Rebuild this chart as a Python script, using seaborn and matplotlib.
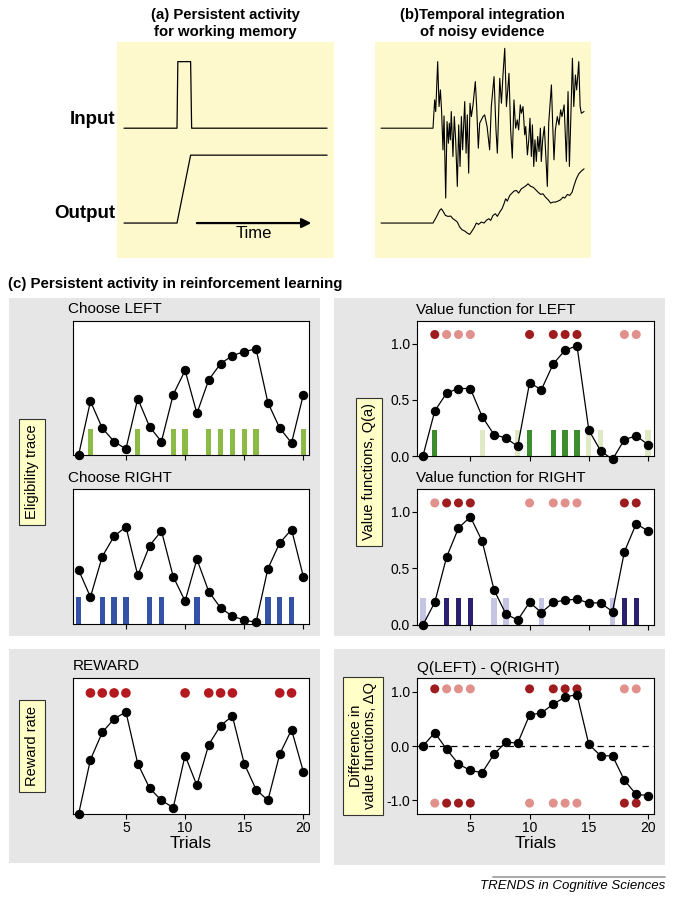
import matplotlib
matplotlib.use("Agg")
import matplotlib.pyplot as plt
from matplotlib.patches import Rectangle
from matplotlib.lines import Line2D
import seaborn as sns

# ---- dados (a): atividade persistente ----
wm_in_t = [0, 26.1, 26.5, 32.8, 33.3, 100]
wm_in_v = [0, 0, 2.0, 2.0, 0, 0]
wm_out_t = [0, 26.1, 32.8, 100]
wm_out_v = [0, 0, 2.04, 2.04]

# ---- dados (b): evidencia ruidosa e integracao ----
noise_t = [-34.4, 0, 1.1, 1.8, 3.1, 4.0, 4.9, 5.7, 6.6, 7.3, 8.4, 9.3, 10.2, 10.8, 11.5, 12.1,
           13.2, 14.1, 15.0, 16.1, 17.0, 17.9, 18.8, 19.6, 21.0, 21.9, 22.7, 23.6, 24.5, 25.4,
           26.5, 28.0, 28.9, 30.0, 30.9, 32.0, 33.1, 34.2, 35.8, 37.5, 38.6, 40.4, 41.7, 42.6,
           44.2, 45.3, 46.4, 47.5, 48.6, 49.4, 50.3, 51.4, 52.5, 53.6, 54.7, 55.8, 56.7, 57.8,
           58.5, 59.6, 60.7, 61.4, 62.5, 63.4, 64.2, 65.1, 65.8, 66.7, 67.5, 68.4, 69.3, 70.2,
           71.1, 71.7, 72.6, 73.7, 74.6, 75.7, 76.6, 78.4, 79.2, 80.1, 81.0, 82.3, 83.4, 84.5,
           85.4, 86.8, 88.3, 89.4, 90.3, 91.2, 92.3, 93.2, 94.3, 95.1, 95.8, 96.5, 97.4, 98.2, 100]
noise_v = [0, 0, 0.85, 0.50, 2.00, 0.65, 1.15, 0.50, -0.65, 0.37, -2.10, 0.20, -0.45, 0.15, -0.35, 0.50,
           -0.85, 0.35, -0.35, -1.75, 0.10, -1.15, 0.35, -0.65, 0.80, -0.75, 0.40, -1.35, 0.75, 0.35,
           0.70, 1.40, 0.65, -0.60, 0.15, 0.25, 0.35, 0.40, 0.05, -0.65, 0.65, 1.55, -0.05, -0.75,
           1.50, 0.75, 1.65, 2.40, 0.65, 1.10, 1.65, -0.05, -0.90, 0.85, 0.00, 0.25, -0.05, 0.70,
           0.45, 0.65, -0.20, 0.05, -0.80, -0.35, 0.30, -0.85, 0.10, -1.15, -0.35, -1.00, -0.25, -0.70,
           0.00, -1.00, -0.35, 0.05, -0.75, -1.75, 0.15, 1.30, 0.15, -0.95, -0.05, 0.35, 0.10, 0.55,
           0.35, 0.70, -1.00, 1.10, -1.15, 0.25, 2.10, 0.65, 1.60, 1.15, 1.55, 2.00, 0.65, 0.45, 0.50]
integ_t = [-34.4, 0, 2.2, 4.4, 5.5, 6.6, 8.2, 9.9, 11.7, 13.2, 14.8, 16.1, 17.7, 19.2, 21.0, 22.7,
           24.3, 25.4, 27.2, 28.7, 30.2, 32.0, 33.8, 35.3, 36.9, 38.2, 39.7, 41.3, 42.6, 44.2,
           45.7, 47.0, 48.1, 49.2, 50.8, 52.3, 53.6, 55.2, 56.7, 58.5, 60.3, 61.8, 62.9, 64.7,
           66.2, 67.8, 69.5, 71.3, 72.8, 74.4, 76.2, 77.9, 79.5, 81.0, 82.8, 84.5, 86.1, 87.2,
           89.0, 90.5, 92.1, 93.4, 94.9, 96.5, 98.2, 100]
integ_v = [0, 0, 0.18, 0.38, 0.43, 0.36, 0.23, 0.20, 0.21, 0.13, 0.08, 0.03, -0.12, -0.20, -0.24, -0.30,
           -0.34, -0.27, -0.14, 0.00, -0.04, 0.03, 0.00, 0.08, 0.13, 0.08, 0.23, 0.28, 0.20, 0.33,
           0.43, 0.58, 0.73, 0.66, 0.83, 0.90, 0.96, 0.98, 0.90, 1.03, 1.08, 1.13, 1.18, 1.10,
           1.08, 1.01, 0.93, 0.86, 0.88, 0.78, 0.70, 0.60, 0.63, 0.63, 0.66, 0.70, 0.78, 0.75,
           0.86, 0.83, 0.93, 1.13, 1.33, 1.48, 1.56, 1.63]

# ---- dados (c): aprendizado por reforco ----
trials = list(range(1, 21))
chose_left = [2, 6, 9, 10, 12, 13, 14, 15, 16, 20]
chose_right = [1, 3, 4, 5, 7, 8, 11, 17, 18, 19]
rewarded = [2, 3, 4, 5, 10, 12, 13, 14, 18, 19]

elig_left = [0.00, 0.40, 0.20, 0.10, 0.045, 0.42, 0.21, 0.10, 0.45, 0.63,
             0.31, 0.56, 0.68, 0.74, 0.77, 0.79, 0.39, 0.20, 0.09, 0.45]
elig_right = [0.40, 0.20, 0.50, 0.65, 0.72, 0.36, 0.58, 0.69, 0.35, 0.17,
              0.48, 0.24, 0.12, 0.057, 0.03, 0.012, 0.41, 0.60, 0.70, 0.35]
q_left = [0.00, 0.40, 0.56, 0.60, 0.60, 0.35, 0.19, 0.16, 0.086, 0.65,
          0.59, 0.82, 0.94, 0.98, 0.23, 0.045, -0.03, 0.145, 0.18, 0.10]
q_right = [0.00, 0.20, 0.60, 0.855, 0.955, 0.74, 0.31, 0.097, 0.044, 0.20,
           0.11, 0.20, 0.22, 0.227, 0.195, 0.195, 0.118, 0.646, 0.894, 0.829]
q_diff = [0.00, 0.245, -0.06, -0.33, -0.45, -0.49, -0.15, 0.07, 0.055, 0.57,
          0.61, 0.77, 0.90, 0.945, 0.03, -0.18, -0.18, -0.63, -0.89, -0.91]
reward_rate = [0.00, 0.40, 0.60, 0.70, 0.75, 0.37, 0.19, 0.10, 0.047, 0.43,
               0.21, 0.51, 0.65, 0.72, 0.37, 0.18, 0.10, 0.44, 0.62, 0.31]

# ---- estilo ----
sns.set_theme(style="white", rc={"text.color": "black", "axes.labelcolor": "black",
                                 "xtick.color": "black", "ytick.color": "black",
                                 "patch.force_edgecolor": False})
plt.rcParams["font.family"] = ["Liberation Sans", "DejaVu Sans"]

W, H = 675, 899
YELLOW = "#fdf9cd"
GRAY = "#e6e6e6"
LABEL_BOX = "#ffffc8"
RED_DARK = "#9e1b1e"
RED_LIGHT = "#e0918c"
RED_REWARD = "#b3191e"
GREEN = "#8cbb45"
GREEN_DARK = "#3d8c2e"
GREEN_LIGHT = "#dfe9c6"
BLUE = "#3553a6"
NAVY = "#2b1f70"
LAVENDER = "#c4c4e4"

fig = plt.figure(figsize=(W / 100, H / 100), dpi=100)
fig.patch.set_facecolor("white")


def px_axes(x0, y0, x1, y1):
    return fig.add_axes([x0 / W, 1 - y1 / H, (x1 - x0) / W, (y1 - y0) / H])


def ftext(x, y, s, **kw):
    fig.text(x / W, 1 - y / H, s, **kw)


def gray_box(x0, y0, x1, y1):
    fig.add_artist(Rectangle((x0 / W, 1 - y1 / H), (x1 - x0) / W, (y1 - y0) / H,
                             transform=fig.transFigure, facecolor=GRAY,
                             edgecolor="none", zorder=0))


def trace(ax, y):
    sns.lineplot(x=trials, y=y, ax=ax, color="black", lw=0.9, marker="o",
                 markersize=6, markeredgecolor="black", estimator=None,
                 sort=False, clip_on=False, zorder=4)


def dots(ax, xs, level, color, s=42):
    sns.scatterplot(x=xs, y=[level] * len(xs), ax=ax, color=color, s=s,
                    edgecolor="none", clip_on=False, zorder=3, legend=False)


def bars(ax, xs, height, colors):
    ax.bar(xs, height, width=0.45, color=colors, edgecolor="none", linewidth=0, zorder=2)


def style_c(ax, ylim, xlabels=False):
    ax.set_xlim(0.5, 20.5)
    ax.set_ylim(*ylim)
    ax.set_facecolor("white")
    for sp in ax.spines.values():
        sp.set_visible(True)
        sp.set_color("black")
        sp.set_linewidth(0.8)
    ax.set_xticks([5, 10, 15, 20])
    ax.tick_params(axis="x", bottom=True, direction="out", length=3.5, width=0.8,
                   color="black", labelbottom=xlabels, labelsize=10, pad=1.5)
    ax.set_xlabel("")
    ax.set_ylabel("")


def yticks_c(ax, vals, labels):
    ax.set_yticks(vals)
    ax.set_yticklabels(labels)
    ax.tick_params(axis="y", left=True, direction="out", length=3.5, width=0.8,
                   color="black", labelsize=10, pad=1.5)


# ---- painel (a) ----
ax_a = px_axes(117, 42, 334, 258)
sns.lineplot(x=wm_in_t, y=[v + 2.85 for v in wm_in_v], ax=ax_a, color="black",
             lw=0.9, estimator=None, sort=False)
sns.lineplot(x=wm_out_t, y=wm_out_v, ax=ax_a, color="black", lw=0.9,
             estimator=None, sort=False)
ax_a.annotate("", xy=(93.6, 0), xytext=(34.5, 0),
              arrowprops=dict(arrowstyle="-|>", color="black", lw=1.6, mutation_scale=14))
ax_a.text(64, -0.3, "Time", ha="center", va="center", fontsize=12)
ax_a.set_xlim(-3.45, 103.4)
ax_a.set_ylim(-1.05, 5.44)
ax_a.axis("off")
ax_a.add_patch(Rectangle((0, 0), 1, 1, transform=ax_a.transAxes, facecolor=YELLOW,
                         edgecolor="none", zorder=-1))
ftext(225, 15, "(a) Persistent activity", ha="center", va="center", fontsize=10.7, fontweight="bold")
ftext(225, 32, "for working memory", ha="center", va="center", fontsize=10.7, fontweight="bold")
ftext(115, 124, "Input", ha="right", va="baseline", fontsize=13.5, fontweight="bold")
ftext(115, 218, "Output", ha="right", va="baseline", fontsize=13.5, fontweight="bold")

# ---- painel (b) ----
ax_b = px_axes(375, 42, 591, 258)
sns.lineplot(x=noise_t, y=[v + 2.85 for v in noise_v], ax=ax_b, color="black",
             lw=0.8, estimator=None, sort=False)
sns.lineplot(x=integ_t, y=integ_v, ax=ax_b, color="black", lw=0.8,
             estimator=None, sort=False)
ax_b.set_xlim(-38.4, 104.6)
ax_b.set_ylim(-1.05, 5.44)
ax_b.axis("off")
ax_b.add_patch(Rectangle((0, 0), 1, 1, transform=ax_b.transAxes, facecolor=YELLOW,
                         edgecolor="none", zorder=-1))
ftext(482, 15, "(b)Temporal integration", ha="center", va="center", fontsize=10.7, fontweight="bold")
ftext(482, 32, "of noisy evidence", ha="center", va="center", fontsize=10.7, fontweight="bold")

# ---- painel (c) ----
ftext(8, 284, "(c) Persistent activity in reinforcement learning", ha="left",
      va="center", fontsize=10.8, fontweight="bold")
gray_box(9, 298, 320, 636)
gray_box(334, 298, 665, 636)
gray_box(9, 649, 320, 863)
gray_box(334, 649, 665, 865)

# traco de elegibilidade - esquerda
ax1 = px_axes(72.7, 320.7, 309.3, 455)
bars(ax1, chose_left, 0.19, GREEN)
trace(ax1, elig_left)
style_c(ax1, (0, 1))
ax1.set_yticks([])
ftext(68, 309, "Choose LEFT", ha="left", va="center", fontsize=11)

# traco de elegibilidade - direita
ax2 = px_axes(72.7, 489, 309.3, 624)
bars(ax2, chose_right, 0.20, BLUE)
trace(ax2, elig_right)
style_c(ax2, (0, 1))
ax2.set_yticks([])
ftext(68, 478, "Choose RIGHT", ha="left", va="center", fontsize=11)

# funcao valor - esquerda
left_rew = [t for t in chose_left if t in rewarded]
right_rew = [t for t in chose_right if t in rewarded]
ax3 = px_axes(417, 321, 654, 456)
bars(ax3, chose_left, 0.235, [GREEN_DARK if t in rewarded else GREEN_LIGHT for t in chose_left])
dots(ax3, left_rew, 1.08, RED_DARK)
dots(ax3, right_rew, 1.08, RED_LIGHT)
trace(ax3, q_left)
style_c(ax3, (0, 1.2))
yticks_c(ax3, [0, 0.5, 1.0], ["0.0", "0.5", "1.0"])
ftext(416, 310, "Value function for LEFT", ha="left", va="center", fontsize=11)

# funcao valor - direita
ax4 = px_axes(417, 489, 654, 625)
bars(ax4, chose_right, 0.24, [NAVY if t in rewarded else LAVENDER for t in chose_right])
dots(ax4, left_rew, 1.077, RED_LIGHT)
dots(ax4, right_rew, 1.077, RED_DARK)
trace(ax4, q_right)
style_c(ax4, (0, 1.2))
yticks_c(ax4, [0, 0.5, 1.0], ["0.0", "0.5", "1.0"])
ftext(416, 478, "Value function for RIGHT", ha="left", va="center", fontsize=11)

# taxa de recompensa
ax5 = px_axes(72.7, 678, 309.3, 814)
dots(ax5, rewarded, 0.89, RED_REWARD, s=48)
trace(ax5, reward_rate)
style_c(ax5, (0, 1), xlabels=True)
ax5.set_yticks([])
ax5.set_xlabel("Trials", fontsize=12.5, labelpad=1)
ftext(72.7, 666, "REWARD", ha="left", va="center", fontsize=11)

# diferenca Q(LEFT) - Q(RIGHT)
ax6 = px_axes(417, 678, 654, 814)
ax6.axhline(0, color="black", lw=0.9, ls=(0, (5, 4)), zorder=1)
dots(ax6, left_rew, 1.05, RED_DARK)
dots(ax6, right_rew, 1.05, RED_LIGHT)
dots(ax6, left_rew, -1.05, RED_LIGHT)
dots(ax6, right_rew, -1.05, RED_DARK)
trace(ax6, q_diff)
style_c(ax6, (-1.25, 1.25), xlabels=True)
yticks_c(ax6, [-1.0, 0.0, 1.0], ["-1.0", "0.0", "1.0"])
ax6.set_xlabel("Trials", fontsize=12.5, labelpad=1)
ftext(417, 668, "Q(LEFT) - Q(RIGHT)", ha="left", va="center", fontsize=11)

# rotulos em caixas amarelas
box = dict(boxstyle="square,pad=0.4", facecolor=LABEL_BOX, edgecolor="#333333", linewidth=0.8)
ftext(32, 472, "Eligibility trace", rotation=90, ha="center", va="center", fontsize=10.5, bbox=box)
ftext(369, 472, "Value functions, Q(a)", rotation=90, ha="center", va="center", fontsize=10.5, bbox=box)
ftext(32, 746, "Reward rate", rotation=90, ha="center", va="center", fontsize=10.5, bbox=box)
ftext(363, 746, "Difference in\nvalue functions, \u0394Q", rotation=90, ha="center",
      va="center", fontsize=10.5, linespacing=1.05, bbox=box)

# rodape
fig.add_artist(Line2D([493 / W, 665 / W], [1 - 877 / H, 1 - 877 / H],
                      transform=fig.transFigure, color="#999999", lw=1.2))
ftext(665, 886, "TRENDS in Cognitive Sciences", ha="right", va="center",
      fontsize=9.5, fontstyle="italic")

fig.savefig("out.png", dpi=100)
